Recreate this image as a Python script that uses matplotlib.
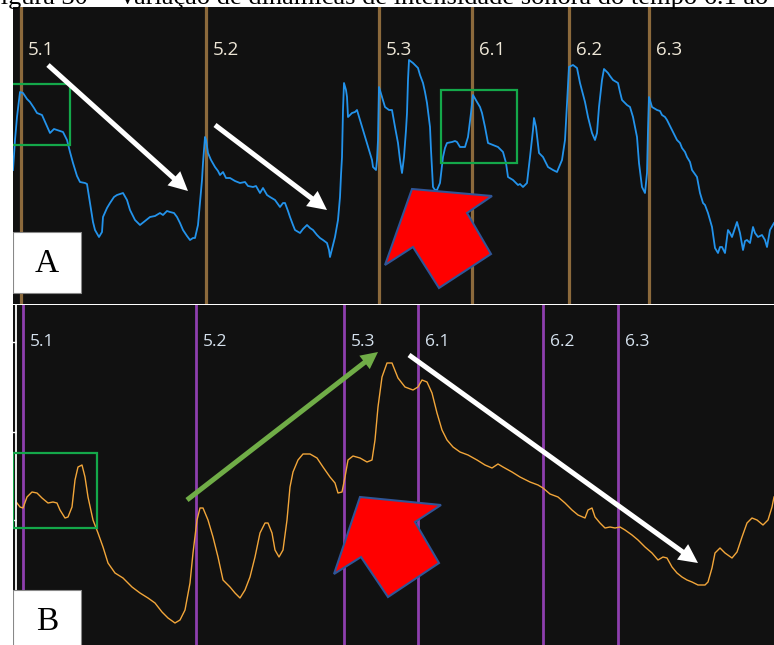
import matplotlib
matplotlib.use("Agg")
import matplotlib.pyplot as plt
from matplotlib.patches import Rectangle, Polygon

# ---------------- data ----------------
# Panel A: intensity envelope (blue)
t_a = [13, 15, 17, 19, 20, 23, 27, 30, 34, 37, 42, 46, 50, 54, 57, 63, 67, 70, 73, 77,
       80, 85, 87, 90, 93, 95, 99, 102, 103, 107, 110, 114, 117, 123, 127, 130, 135, 140, 145, 150,
       155, 160, 163, 167, 170, 174, 177, 180, 183, 187, 190, 193, 195, 198, 200, 202, 203, 205, 206, 208,
       211, 215, 218, 220, 223, 226, 230, 235, 240, 245, 248, 253, 256, 260, 263, 267, 270, 275, 280, 283,
       285, 288, 290, 293, 295, 300, 303, 307, 310, 313, 317, 320, 323, 327, 329, 330, 333, 335, 338, 340,
       341, 342, 343, 344, 346, 347, 348, 352, 355, 357, 360, 363, 367, 370, 372, 373, 376, 377, 378, 379,
       382, 385, 389, 392, 395, 398, 400, 402, 404, 406, 407, 408, 409, 413, 418, 420, 423, 425, 427, 430,
       431, 433, 435, 437, 440, 443, 445, 447, 452, 455, 457, 460, 465, 468, 471, 473, 477, 480, 482, 485,
       488, 493, 498, 503, 506, 508, 513, 518, 520, 523, 527, 530, 533, 534, 536, 539, 543, 548, 553, 557,
       562, 565, 567, 569, 573, 577, 580, 585, 588, 592, 595, 597, 599, 602, 604, 608, 610, 613, 618, 620,
       622, 627, 630, 633, 637, 639, 642, 645, 647, 648, 649, 652, 657, 660, 662, 665, 667, 670, 672, 677,
       680, 682, 685, 687, 690, 692, 697, 700, 703, 705, 708, 710, 712, 715, 718, 720, 722, 725, 728, 730,
       732, 735, 737, 740, 743, 745, 747, 750, 753, 755, 758, 762, 765, 767, 770, 774]
level_a = [134, 164, 187, 204, 212, 211, 205, 202, 196, 191, 189, 180, 171, 175, 174, 172, 164, 152, 141, 128,
           122, 121, 120, 101, 82, 74, 67, 72, 87, 96, 101, 107, 109, 111, 104, 94, 84, 79, 83, 87,
           88, 91, 89, 93, 92, 91, 87, 81, 74, 68, 64, 66, 66, 79, 101, 124, 141, 167, 164, 151,
           144, 137, 133, 129, 132, 126, 126, 123, 121, 122, 118, 117, 118, 111, 116, 109, 107, 104, 97, 101,
           101, 93, 87, 79, 74, 71, 75, 79, 76, 74, 69, 66, 64, 61, 54, 47, 59, 67, 84, 107,
           129, 147, 194, 221, 214, 207, 187, 191, 192, 194, 184, 174, 161, 151, 144, 137, 134, 144, 164, 217,
           207, 197, 194, 194, 177, 161, 144, 131, 147, 174, 191, 224, 244, 241, 236, 229, 221, 212, 201, 177,
           154, 117, 114, 114, 121, 147, 156, 161, 162, 163, 162, 157, 157, 167, 191, 209, 202, 197, 191, 177,
           161, 159, 157, 152, 141, 127, 124, 119, 120, 117, 121, 147, 174, 186, 177, 151, 147, 137, 134, 132,
           144, 164, 201, 237, 239, 236, 221, 202, 187, 171, 164, 171, 197, 224, 235, 231, 228, 224, 221, 212,
           204, 199, 197, 187, 167, 141, 117, 111, 131, 174, 207, 197, 194, 193, 189, 187, 184, 178, 174, 164,
           161, 156, 152, 147, 142, 134, 127, 111, 101, 99, 91, 84, 77, 56, 51, 57, 57, 51, 74, 71,
           67, 76, 82, 71, 54, 63, 64, 61, 77, 71, 67, 69, 64, 57, 74, 81]

# Panel B: intensity envelope (orange)
t_b = [17, 20, 23, 27, 32, 37, 42, 48, 53, 57, 60, 65, 68, 72, 75, 78, 82, 85, 88, 93,
       98, 103, 108, 115, 123, 132, 140, 148, 155, 162, 168, 175, 180, 185, 190, 193, 197, 200, 203, 208,
       213, 218, 223, 230, 235, 240, 245, 250, 255, 260, 265, 268, 272, 275, 279, 283, 287, 290, 293, 298,
       303, 310, 317, 323, 330, 335, 338, 342, 345, 348, 353, 360, 367, 372, 375, 378, 382, 387, 392, 398,
       405, 413, 418, 422, 427, 432, 437, 442, 447, 453, 460, 468, 477, 485, 492, 498, 503, 512, 520, 530,
       538, 543, 550, 558, 565, 572, 578, 585, 588, 592, 595, 600, 605, 610, 615, 620, 625, 632, 638, 645,
       652, 658, 663, 667, 672, 677, 682, 687, 692, 698, 705, 708, 712, 715, 720, 725, 732, 737, 742, 747,
       752, 757, 763, 768, 772, 774]
level_b = [142, 138, 137, 148, 153, 152, 147, 142, 143, 142, 135, 127, 128, 138, 165, 178, 180, 168, 148, 125,
           112, 98, 82, 72, 67, 58, 52, 47, 42, 33, 27, 22, 25, 35, 62, 92, 125, 137, 137, 125,
           108, 88, 65, 58, 52, 47, 55, 68, 88, 112, 122, 122, 112, 95, 88, 95, 125, 158, 173, 185,
           191, 191, 187, 178, 168, 162, 152, 153, 168, 185, 189, 187, 183, 185, 205, 238, 268, 282, 282, 267,
           258, 255, 258, 265, 263, 252, 232, 215, 205, 198, 193, 190, 185, 180, 177, 181, 178, 173, 168, 163,
           160, 157, 151, 148, 142, 135, 130, 127, 135, 137, 128, 122, 117, 118, 117, 118, 115, 110, 105, 98,
           92, 85, 88, 87, 78, 72, 68, 65, 63, 60, 60, 63, 77, 92, 97, 92, 87, 93, 108, 122,
           127, 125, 120, 125, 138, 148]

# section markers
markers_a = [21, 206, 379, 472, 569, 649]
markers_b = [23, 196, 344, 418, 543, 618]
section_labels = ["5.1", "5.2", "5.3", "6.1", "6.2", "6.3"]

# annotations (panel data units)
boxes_a = [(11, 159, 59, 61), (441, 141, 76, 73)]
boxes_b = [(13, 117, 84, 75)]
white_arrows_a = [((48, 239), (188, 113)), ((215, 179), (327, 94))]
white_arrows_b = [((409, 290), (698, 82))]
green_arrows_b = [((187, 145), (378, 293))]
red_arrow_a = [(412, 115), (492, 108), (467, 91), (491, 50), (439, 16), (413, 57), (385, 39)]
red_arrow_b = [(360, 148), (441, 140), (415, 123), (439, 82), (388, 48), (361, 88), (334, 71)]

caption_head = "Figura 30 –"
caption_tail = "Variação de dinâmicas de intensidade sonora do tempo 6.1 ao"

# ---------------- style ----------------
W, H = 774, 645
BG = "#111111"
fig = plt.figure(figsize=(W / 100, H / 100), dpi=100, facecolor="white")

axA = fig.add_axes([13 / W, (H - 304) / H, (W - 13) / W, 297 / H])
axB = fig.add_axes([13 / W, 0, (W - 13) / W, 340 / H])

for ax, ylim in ((axA, 297), (axB, 340)):
    ax.set_facecolor(BG)
    ax.set_xlim(13, 774)
    ax.set_ylim(0, ylim)
    ax.set_xticks([])
    ax.set_yticks([])
    for s in ax.spines.values():
        s.set_visible(False)

# Panel A
for x, lab in zip(markers_a, section_labels):
    axA.axvline(x, color="#8C6A3C", lw=2.3, zorder=1)
    axA.text(x + 7, 254, lab, color="#EDE6D6", fontsize=13.5, family="Open Sans",
             va="center", ha="left", zorder=5)
axA.plot(t_a, level_a, color="#2393EB", lw=1.3, zorder=2)

for (x0, y0, w, h) in boxes_a:
    axA.add_patch(Rectangle((x0, y0), w, h, fill=False, ec="#14A84A", lw=1.6, zorder=4))
for (p0, p1) in white_arrows_a:
    axA.arrow(p0[0], p0[1], p1[0] - p0[0], p1[1] - p0[1], width=5, head_width=19,
              head_length=19, length_includes_head=True, color="white", lw=0, zorder=6)
axA.add_patch(Polygon(red_arrow_a, closed=True, fc="#FF0000", ec="#2F5597", lw=1.5, zorder=7))
axA.add_patch(Rectangle((13, 11), 68, 61, fc="white", ec="#888888", lw=0.8, zorder=8))
axA.text(47, 40, "A", family="Liberation Serif", fontsize=24, ha="center", va="center",
         color="black", zorder=9)

# Panel B
axB.spines["left"].set_visible(True)
axB.spines["left"].set_position(("data", 16))
axB.spines["left"].set_color("white")
axB.spines["left"].set_linewidth(1.3)
axB.set_yticks([125, 213, 303])
axB.tick_params(axis="y", direction="out", length=3, width=1, color="white", labelleft=False)

for x, lab in zip(markers_b, section_labels):
    axB.axvline(x, color="#8E3FAE", lw=2.0, zorder=1)
    axB.text(x + 7, 303, lab, color="#D6E2EE", fontsize=12.5, family="Open Sans",
             va="center", ha="left", zorder=5)
axB.plot(t_b, level_b, color="#F2A63A", lw=1.0, zorder=2)

for (x0, y0, w, h) in boxes_b:
    axB.add_patch(Rectangle((x0, y0), w, h, fill=False, ec="#14A84A", lw=1.6, zorder=4))
for (p0, p1) in green_arrows_b:
    axB.arrow(p0[0], p0[1], p1[0] - p0[0], p1[1] - p0[1], width=5, head_width=17,
              head_length=17, length_includes_head=True, color="#70AD47", lw=0, zorder=6)
for (p0, p1) in white_arrows_b:
    axB.arrow(p0[0], p0[1], p1[0] - p0[0], p1[1] - p0[1], width=5, head_width=19,
              head_length=19, length_includes_head=True, color="white", lw=0, zorder=6)
axB.add_patch(Polygon(red_arrow_b, closed=True, fc="#FF0000", ec="#2F5597", lw=1.5, zorder=7))
axB.add_patch(Rectangle((13, -5), 68, 60, fc="white", ec="#888888", lw=0.8, zorder=8))
axB.text(47, 23, "B", family="Liberation Serif", fontsize=24, ha="center", va="center",
         color="black", zorder=9)

# caption (cut at the top of the page, as in the reference)
fig.text(108 / W, 1 - 4 / H, caption_head, family="Liberation Serif", fontsize=19,
         ha="right", va="baseline", color="black")
fig.text(118 / W, 1 - 4 / H, caption_tail, family="Liberation Serif", fontsize=19,
         ha="left", va="baseline", color="black")

fig.savefig("out.png", dpi=100, facecolor="white")
